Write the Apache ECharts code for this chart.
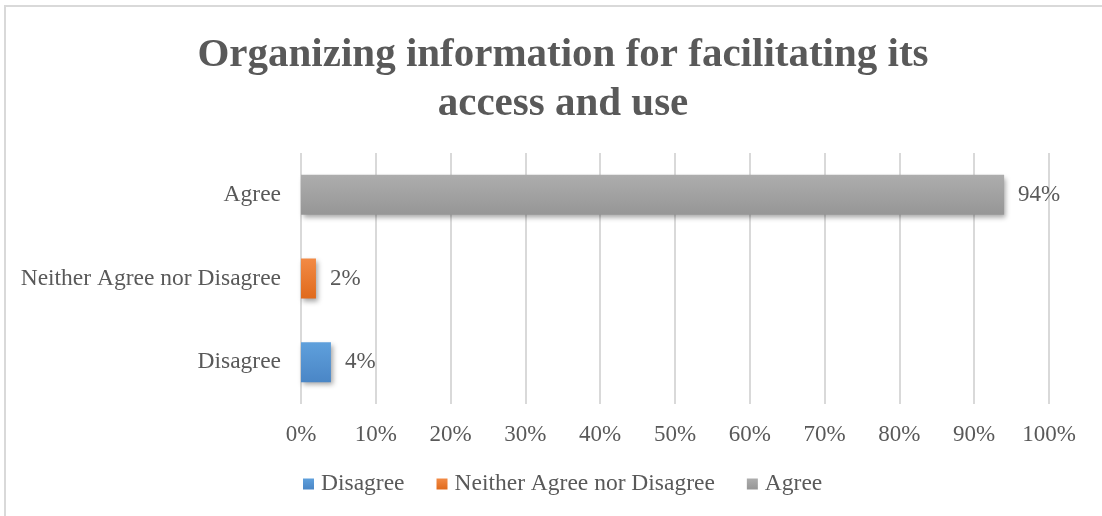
<!DOCTYPE html>
<html>
<head>
<meta charset="utf-8">
<script src="https://cdn.jsdelivr.net/npm/echarts@6/dist/echarts.min.js"></script>
<style>
  html, body { margin: 0; padding: 0; background: #fff; }
  #chart { width: 1102px; height: 516px; }
</style>
</head>
<body>
<div id="chart"></div>
<script>
// Survey responses, bottom-to-top on the category axis
const categories = ['Disagree', 'Neither Agree nor Disagree', 'Agree'];
const disagree = [4, null, null];
const neither = [null, 2, null];
const agree = [null, null, 94];
const xTicks = [0, 10, 20, 30, 40, 50, 60, 70, 80, 90, 100];

const FONT = '"Liberation Serif", "Times New Roman", serif';
const TEXT = '#595959';

function grad(top, bottom) {
  return new echarts.graphic.LinearGradient(0, 0, 0, 1, [
    { offset: 0, color: top },
    { offset: 1, color: bottom }
  ]);
}

function barSeries(name, data, top, bottom) {
  return {
    name: name,
    type: 'bar',
    stack: 'one',
    data: data,
    barWidth: 40,
    itemStyle: {
      color: grad(top, bottom),
      shadowColor: 'rgba(0,0,0,0.35)',
      shadowBlur: 5,
      shadowOffsetX: 2,
      shadowOffsetY: 3
    },
    label: {
      show: true,
      position: 'right',
      distance: 14,
      formatter: p => p.value + '%',
      fontFamily: FONT,
      fontSize: 23,
      color: TEXT
    }
  };
}

const chart = echarts.init(document.getElementById('chart'), null, { renderer: 'canvas' });
chart.setOption({
  animation: false,
  backgroundColor: '#fff',
  color: ['#5B9BD5', '#ED7D31', '#A5A5A5'],
  title: {
    text: 'Organizing information for facilitating its\naccess and use',
    left: 558,
    textAlign: 'center',
    top: 26,
    textStyle: {
      fontFamily: FONT,
      fontWeight: 'bold',
      fontSize: 41,
      lineHeight: 49,
      color: TEXT
    }
  },
  legend: {
    data: ['Disagree', 'Neither Agree nor Disagree', 'Agree'],
    left: 298,
    top: 467,
    itemWidth: 11,
    itemHeight: 11,
    itemGap: 32,
    icon: 'rect',
    textStyle: { fontFamily: FONT, fontSize: 23.5, color: TEXT, padding: [0, 0, 0, 2] }
  },
  grid: { left: 301, right: 53, top: 153, bottom: 112 },
  xAxis: {
    type: 'value',
    min: 0,
    max: 100,
    interval: 10,
    axisLine: { show: false },
    axisTick: { show: false },
    splitLine: { show: true, lineStyle: { color: '#d9d9d9', width: 2 } },
    axisLabel: {
      margin: 19,
      fontFamily: FONT,
      fontSize: 23,
      color: TEXT,
      formatter: v => (xTicks.indexOf(v) >= 0 ? v + '%' : '')
    }
  },
  yAxis: {
    type: 'category',
    data: categories,
    axisLine: { show: false },
    axisTick: { show: false },
    axisLabel: { margin: 20, fontFamily: FONT, fontSize: 23.5, color: TEXT }
  },
  series: [
    barSeries('Disagree', disagree, '#5fa0dc', '#4a86c6'),
    barSeries('Neither Agree nor Disagree', neither, '#f28a45', '#e06a1c'),
    barSeries('Agree', agree, '#adadad', '#969696')
  ],
  graphic: [
    { type: 'line', shape: { x1: 5, y1: 5, x2: 5, y2: 516 }, style: { stroke: '#d9d9d9', lineWidth: 2 } },
    { type: 'line', shape: { x1: 5, y1: 6, x2: 1102, y2: 6 }, style: { stroke: '#d9d9d9', lineWidth: 2 } }
  ]
});
</script>
</body>
</html>
